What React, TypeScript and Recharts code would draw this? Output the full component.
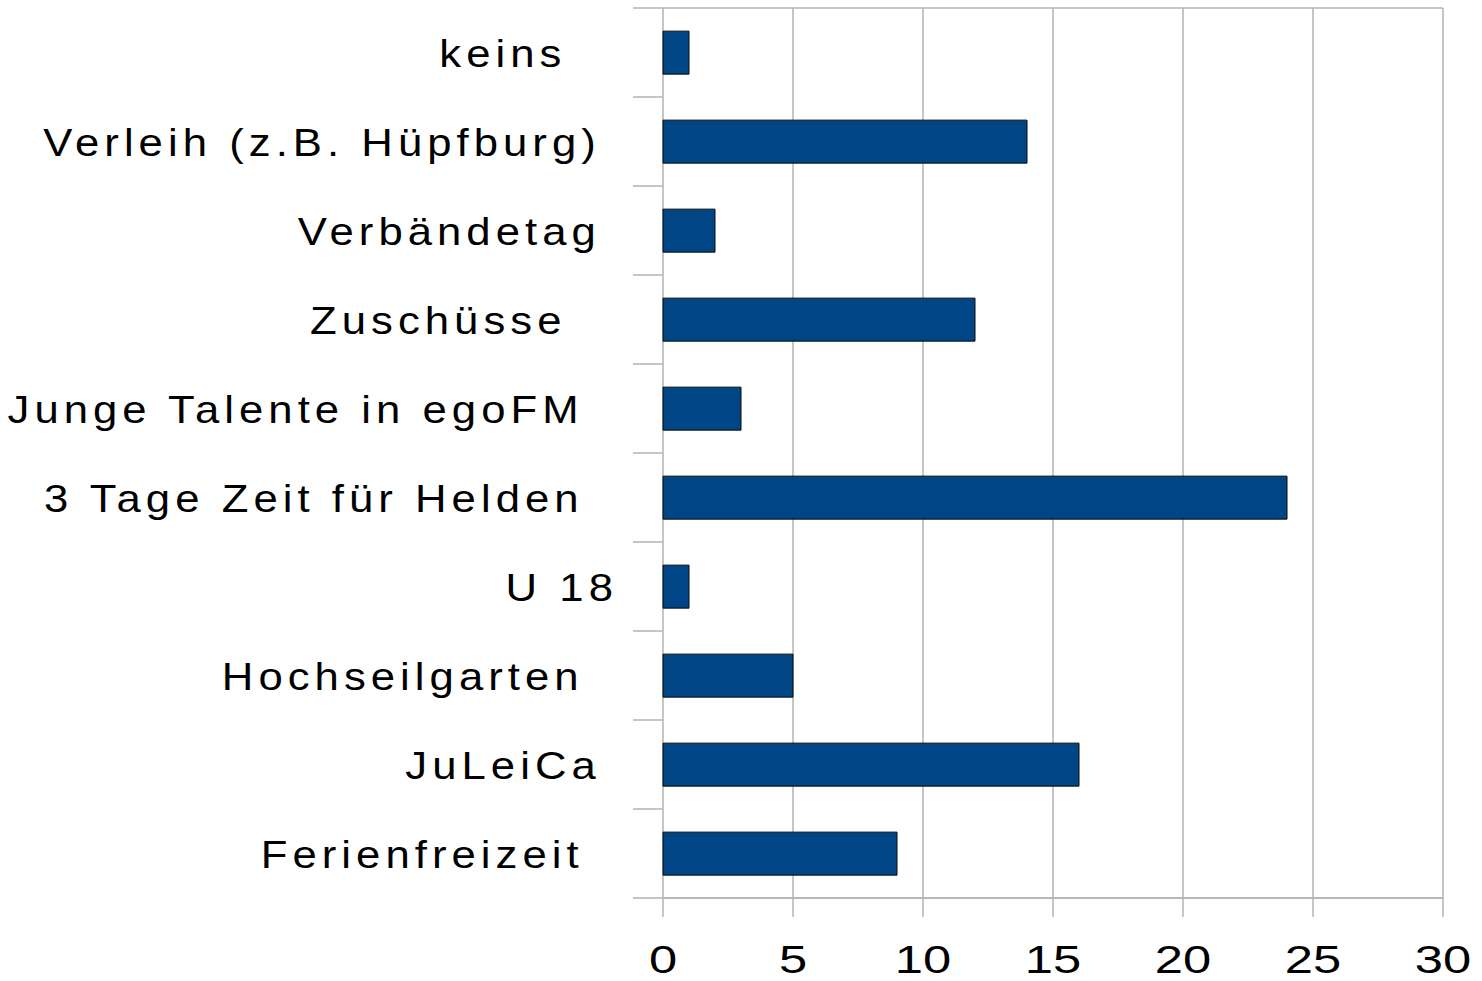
import { BarChart, Bar, XAxis, YAxis, CartesianGrid } from 'recharts';

// category names keep the trailing blanks of the source labels
const categories = [
  'keins   ',
  'Verleih (z.B. Hüpfburg) ',
  'Verbändetag ',
  'Zuschüsse   ',
  'Junge Talente in egoFM  ',
  '3 Tage Zeit für Helden  ',
  'U 18',
  'Hochseilgarten  ',
  'JuLeiCa ',
  'Ferienfreizeit  ',
];
const counts = [1, 14, 2, 12, 3, 24, 1, 5, 16, 9];
const xTicks = [0, 5, 10, 15, 20, 25, 30];

const data = categories.map((name, i) => ({ name, value: counts[i] }));

const GRID = '#b3b3b3';
const FONT = '"Liberation Sans", Arial, sans-serif';

const CategoryTick = ({ x, y, payload, index, visibleTicksCount }: any) => {
  const half = payload.offset ?? 0;
  const axisX = x + 45;
  return (
    <g>
      <line x1={axisX - 30} x2={axisX} y1={y - half} y2={y - half} stroke={GRID} strokeWidth={1.5} />
      {index === visibleTicksCount - 1 && (
        <line x1={axisX - 30} x2={axisX} y1={y + half} y2={y + half} stroke={GRID} strokeWidth={1.5} />
      )}
      <g transform={`translate(${x},${y + 14})`}>
        <text
          transform="scale(1.12,1)"
          textAnchor="end"
          fontSize={39}
          letterSpacing={4.5}
          fontFamily={FONT}
          fill="#000"
          xmlSpace="preserve"
          style={{ whiteSpace: 'pre' }}
        >
          {payload.value}
        </text>
      </g>
    </g>
  );
};

const ValueTick = ({ x, y, payload }: any) => (
  <g transform={`translate(${x},${y + 56})`}>
    <text transform="scale(1.3,1)" textAnchor="middle" fontSize={39} fontFamily={FONT} fill="#000">
      {payload.value}
    </text>
  </g>
);

export default function App() {
  return (
    <div style={{ position: 'absolute', left: 0, top: 0, background: '#fff' }}>
      <BarChart
        width={1482}
        height={981}
        data={data}
        layout="vertical"
        margin={{ top: 8, right: 39, left: 0, bottom: 0 }}
        barCategoryGap="26%"
      >
        <CartesianGrid
          stroke={GRID}
          strokeWidth={1.5}
          horizontalCoordinatesGenerator={({ offset }: any) => [offset.top, offset.top + offset.height]}
        />
        <XAxis
          type="number"
          domain={[0, 30]}
          ticks={xTicks}
          interval={0}
          height={83}
          axisLine={{ stroke: GRID, strokeWidth: 1.5 }}
          tickLine={{ stroke: GRID, strokeWidth: 1.5 }}
          tickSize={19}
          tickMargin={0}
          tick={<ValueTick />}
        />
        <YAxis
          type="category"
          dataKey="name"
          width={663}
          interval={0}
          axisLine={false}
          tickLine={false}
          tickSize={30}
          tickMargin={15}
          tick={<CategoryTick />}
        />
        <Bar dataKey="value" fill="#004586" stroke="#0a0a0a" strokeWidth={1} isAnimationActive={false} />
      </BarChart>
    </div>
  );
}
